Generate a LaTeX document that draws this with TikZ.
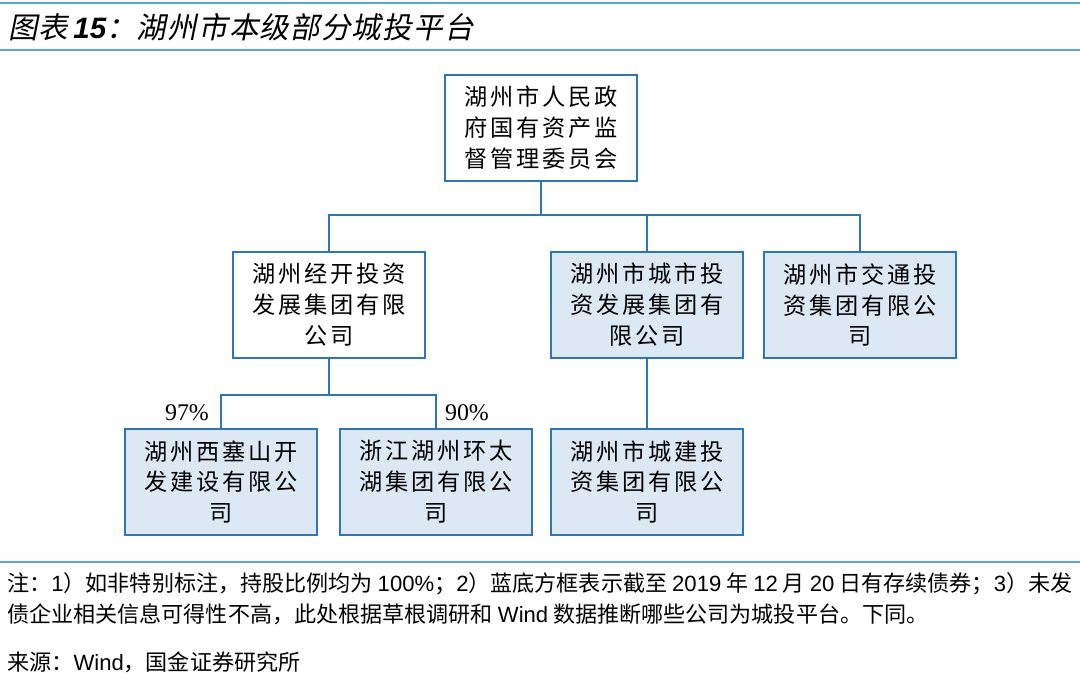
\documentclass[tikz,border=0pt]{standalone}
\usepackage{fontspec}
\setmainfont{Liberation Sans}
\newfontfamily\cjkbox[LetterSpace=12]{Noto Sans CJK SC}
\newfontfamily\cjknote{Noto Sans CJK SC}
\newfontfamily\cjktitle[FakeSlant=0.2,LetterSpace=4]{Noto Sans CJK SC}
\newfontfamily\pctfont{Liberation Serif}
\newcommand{\en}[1]{{\rmfamily #1}}
\definecolor{RuleTeal}{HTML}{5AA9CB}
\definecolor{LineBlue}{HTML}{2E75B6}
\definecolor{SoftFill}{HTML}{DDE8F5}
\usetikzlibrary{positioning,calc}

\begin{document}
\begin{tikzpicture}[x=0.025cm,y=-0.025cm,
box/.style={draw=LineBlue,line width=1.4pt,fill=white,minimum width=4.8cm,minimum height=2.65cm,align=center,inner sep=0pt,font=\fontsize{16.5pt}{22pt}\cjkbox},
bluebox/.style={box,fill=SoftFill},
conn/.style={draw=LineBlue,line width=1.4pt},
pct/.style={font=\fontsize{17pt}{20pt}\pctfont},
rule/.style={draw=RuleTeal,line width=2pt},
note/.style={anchor=west,inner sep=0pt,font=\fontsize{15.7pt}{18pt}\cjknote}
]
\useasboundingbox (0,0) rectangle (1080,677);
% title and rules
\draw[rule] (0,3) -- (1080,3);
\draw[rule] (0,50) -- (1080,50);
\node[anchor=west,inner sep=0pt] (title) at (8,27) {\fontsize{21pt}{24pt}\cjktitle 图表\,{\rmfamily\bfseries\itshape 15}：湖州市本级部分城投平台};
% boxes
\node[box] (gov) at (541,128) {湖州市人民政\\府国有资产监\\督管理委员会};
\node[box] (jk) at (329,305) {湖州经开投资\\发展集团有限\\公司};
\node[bluebox] (cs) at (647,305) {湖州市城市投\\资发展集团有\\限公司};
\node[bluebox] (jt) at (860,305) {湖州市交通投\\资集团有限公\\司};
\node[bluebox] (xss) at (221,482) {湖州西塞山开\\发建设有限公\\司};
\node[bluebox] (hth) at (436,482) {浙江湖州环太\\湖集团有限公\\司};
\node[bluebox] (cj) at (647,482) {湖州市城建投\\资集团有限公\\司};
% connectors
\coordinate (bus1) at (541,215);
\coordinate (bus2) at (329,395);
\draw[conn] (gov.south) -- (bus1);
\draw[conn] (bus1) -| (jk.north);
\draw[conn] (bus1) -| (cs.north);
\draw[conn] (bus1) -| (jt.north);
\draw[conn] (jk.south) -- (bus2);
\draw[conn] (bus2) -| (xss.north);
\draw[conn] (bus2) -| (hth.north);
\draw[conn] (cs.south) -- (cj.north);
\node[pct] (p97) at (187,413) {97\%};
\node[pct] (p90) at (467,413) {90\%};
% notes
\draw[rule] (0,562) -- (1080,562);
\node[note] (note1) at (7,584) {注：\en{1}）如非特别标注，持股比例均为 \en{100\%}；\en{2}）蓝底方框表示截至 \en{2019} 年 \en{12} 月 \en{20} 日有存续债券；\en{3}）未发};
\node[note] (note2) at (7,614) {债企业相关信息可得性不高，此处根据草根调研和 \en{Wind} 数据推断哪些公司为城投平台。下同。};
\node[note] (src) at (7,662) {来源：\en{Wind}，国金证券研究所};
\end{tikzpicture}
\end{document}
